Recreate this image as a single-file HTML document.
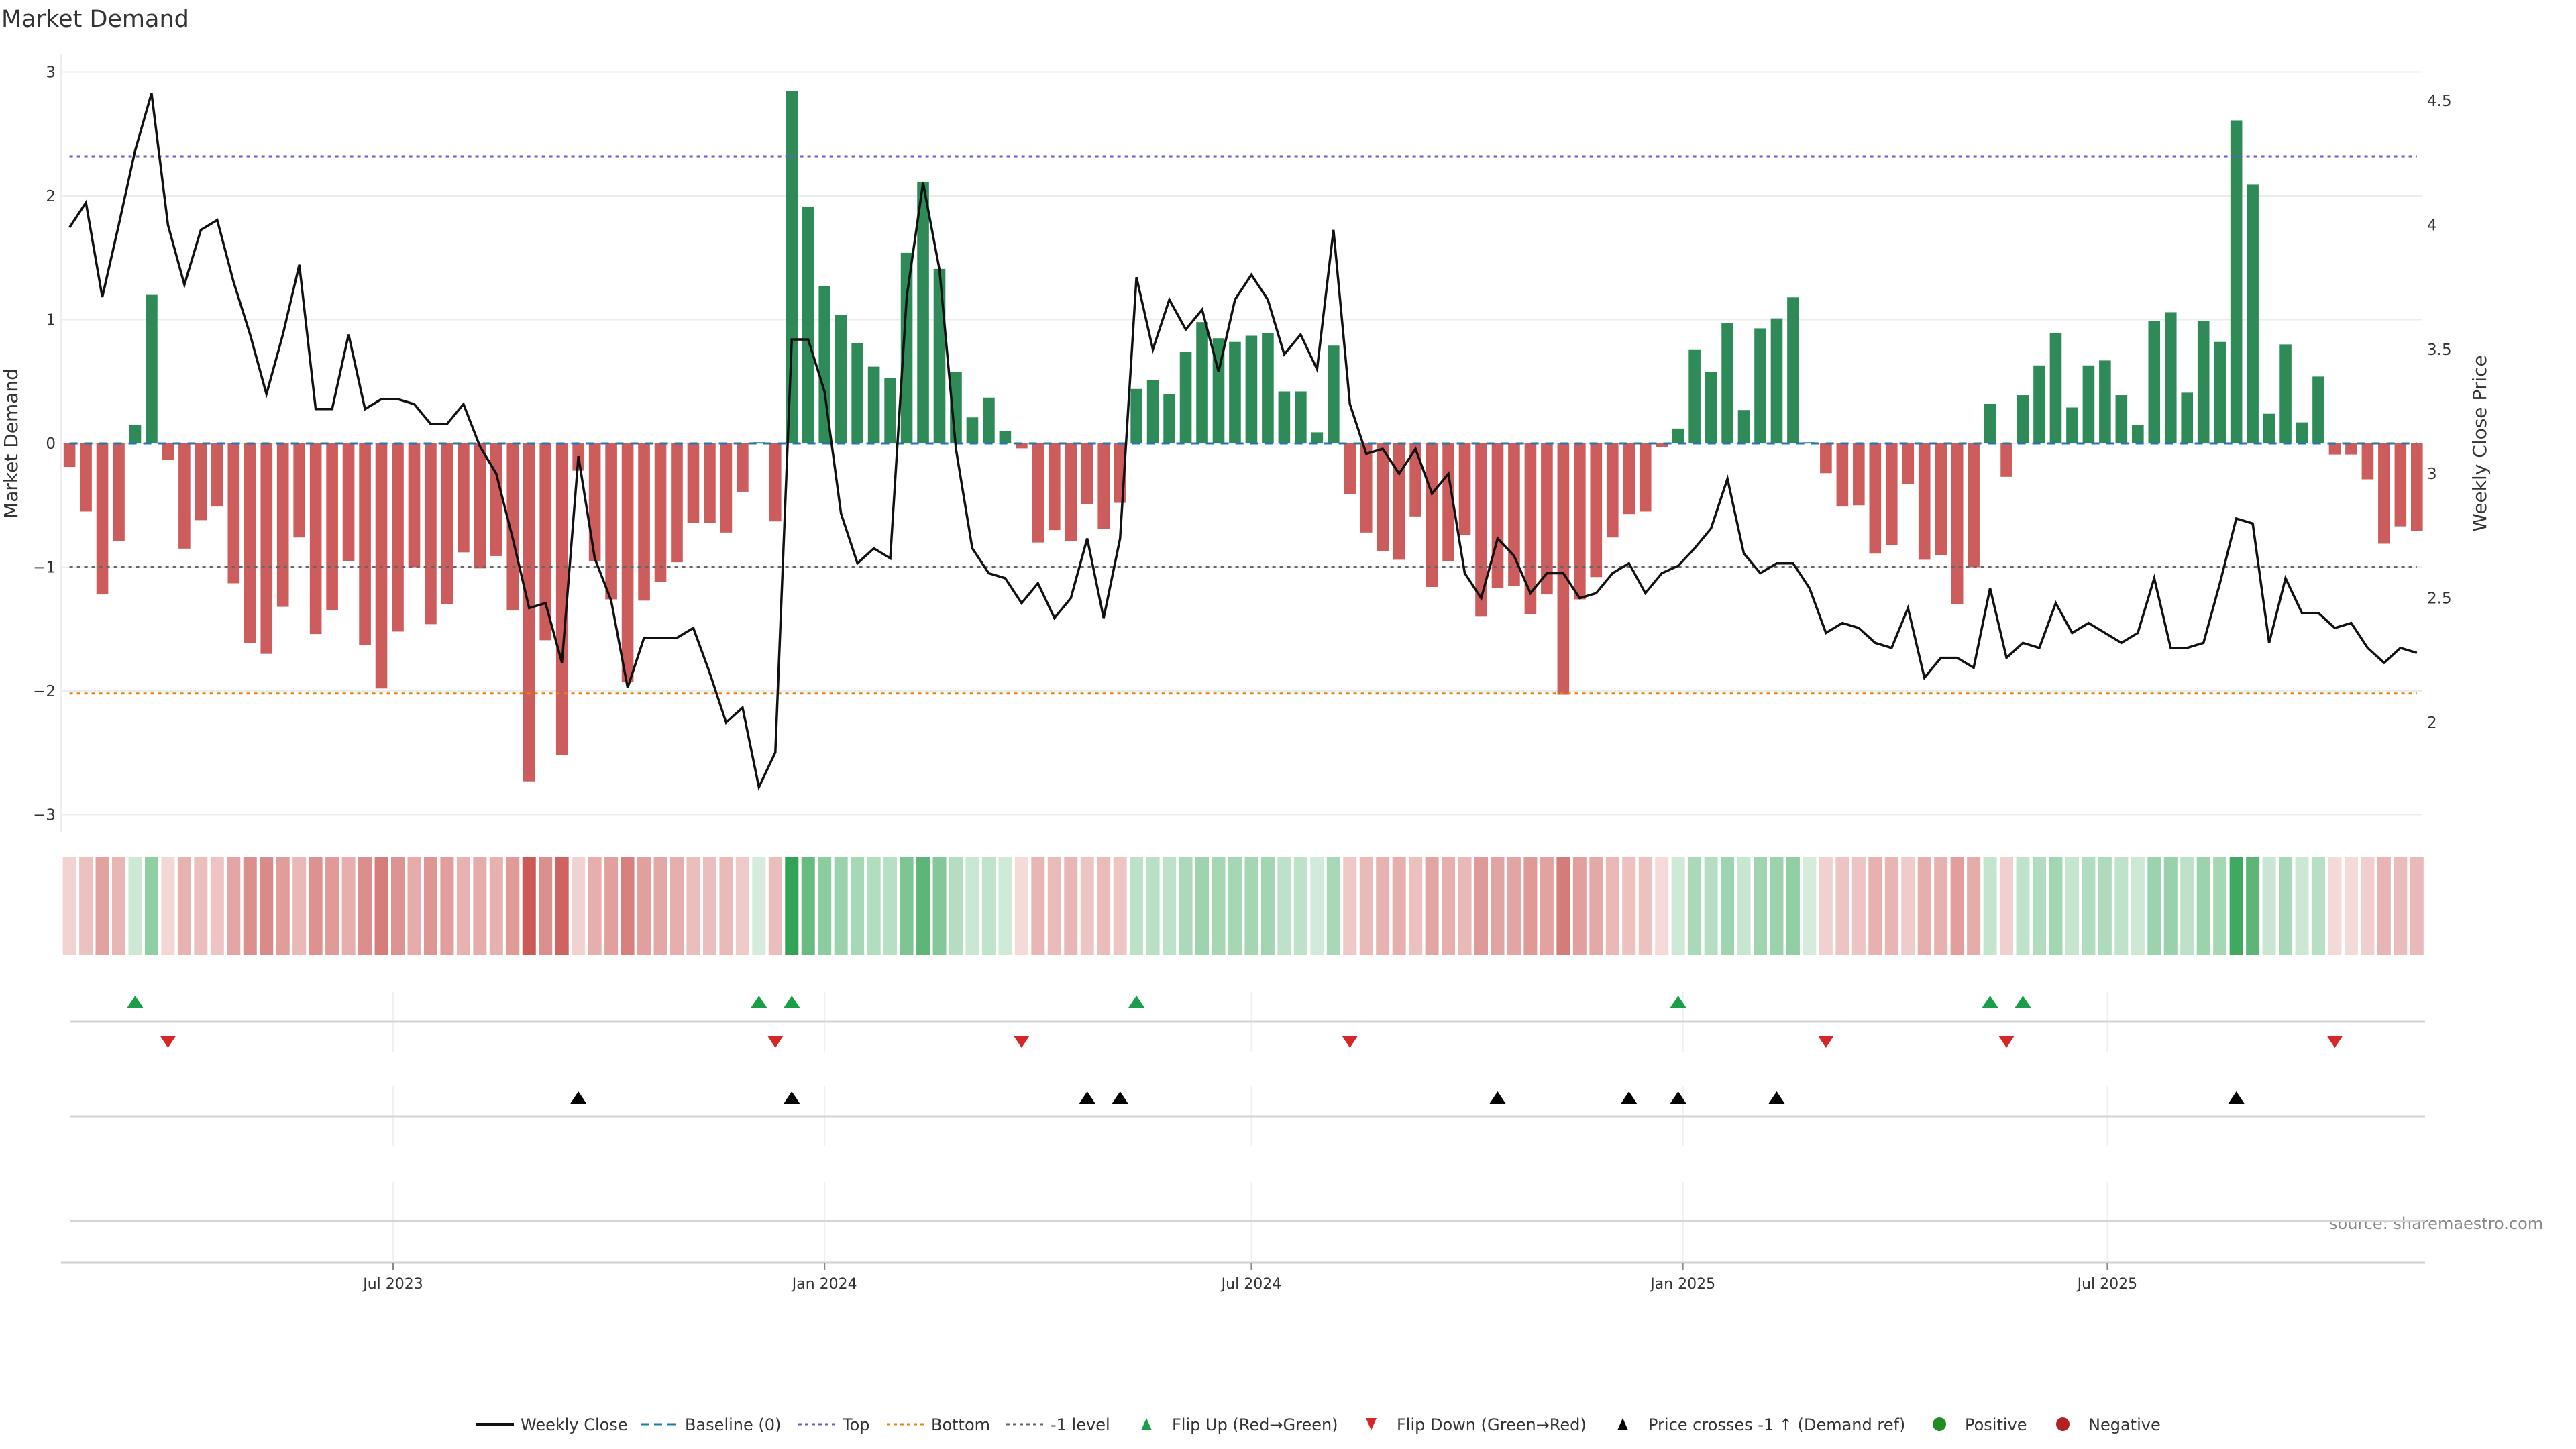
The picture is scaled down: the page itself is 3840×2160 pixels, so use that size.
<!DOCTYPE html>
<html><head><meta charset="utf-8"><title>Market Demand</title>
<style>html,body{margin:0;padding:0;background:#fff}svg{display:block;font-family:"DejaVu Sans","Liberation Sans",sans-serif}</style></head>
<body>
<svg id="chart" xmlns="http://www.w3.org/2000/svg" width="3840" height="2160" viewBox="0 0 3840 2160">
<rect width="3840" height="2160" fill="#fff"/>
<text x="2" y="40" font-size="35" fill="#333">Market Demand</text>
<text transform="translate(26,661) rotate(-90)" text-anchor="middle" font-size="28" fill="#333">Market Demand</text>
<text transform="translate(3706,661) rotate(-90)" text-anchor="middle" font-size="28" fill="#333">Weekly Close Price</text>
<text x="3472" y="1832" font-size="24" fill="#888">source: sharemaestro.com</text>
<g id="grid"></g><g id="bars"></g><g id="refs"></g><g id="line"></g><g id="heat"></g><g id="events"></g><g id="xaxis"></g>
<g id="legend"></g>
</svg>
<script>
const demand=[-0.19,-0.55,-1.22,-0.79,0.15,1.20,-0.13,-0.85,-0.62,-0.51,-1.13,-1.61,-1.70,-1.32,-0.76,-1.54,-1.35,-0.95,-1.63,-1.98,-1.52,-1.00,-1.46,-1.30,-0.88,-1.01,-0.91,-1.35,-2.73,-1.59,-2.52,-0.22,-0.95,-1.26,-1.93,-1.27,-1.12,-0.96,-0.64,-0.64,-0.72,-0.39,0.01,-0.63,2.85,1.91,1.27,1.04,0.81,0.62,0.53,1.54,2.11,1.41,0.58,0.21,0.37,0.10,-0.04,-0.80,-0.70,-0.79,-0.49,-0.69,-0.48,0.44,0.51,0.40,0.74,0.98,0.85,0.82,0.87,0.89,0.42,0.42,0.09,0.79,-0.41,-0.72,-0.87,-0.94,-0.59,-1.16,-0.95,-0.74,-1.40,-1.17,-1.15,-1.38,-1.22,-2.03,-1.26,-1.08,-0.76,-0.57,-0.55,-0.03,0.12,0.76,0.58,0.97,0.27,0.93,1.01,1.18,0.01,-0.24,-0.51,-0.50,-0.89,-0.82,-0.33,-0.94,-0.90,-1.30,-1.00,0.32,-0.27,0.39,0.63,0.89,0.29,0.63,0.67,0.39,0.15,0.99,1.06,0.41,0.99,0.82,2.61,2.09,0.24,0.80,0.17,0.54,-0.09,-0.09,-0.29,-0.81,-0.67,-0.71];
const price=[3.99,4.09,3.71,4.00,4.30,4.53,4.00,3.76,3.98,4.02,3.77,3.56,3.32,3.56,3.84,3.26,3.26,3.56,3.26,3.30,3.30,3.28,3.20,3.20,3.28,3.11,3.00,2.74,2.46,2.48,2.24,3.07,2.66,2.49,2.14,2.34,2.34,2.34,2.38,2.20,2.00,2.06,1.74,1.88,3.54,3.54,3.33,2.84,2.64,2.70,2.66,3.71,4.17,3.82,3.10,2.70,2.60,2.58,2.48,2.56,2.42,2.50,2.74,2.42,2.74,3.79,3.50,3.70,3.58,3.66,3.41,3.70,3.80,3.70,3.48,3.56,3.42,3.98,3.28,3.08,3.10,3.00,3.10,2.92,3.00,2.60,2.50,2.74,2.67,2.52,2.60,2.60,2.50,2.52,2.60,2.64,2.52,2.60,2.63,2.70,2.78,2.98,2.68,2.60,2.64,2.64,2.54,2.36,2.40,2.38,2.32,2.30,2.46,2.18,2.26,2.26,2.22,2.54,2.26,2.32,2.30,2.48,2.36,2.40,2.36,2.32,2.36,2.58,2.30,2.30,2.32,2.56,2.82,2.80,2.32,2.58,2.44,2.44,2.38,2.40,2.30,2.24,2.30,2.28];
const startDate="2023-02-13";
const tickDates=["2023-07-01","2024-01-01","2024-07-01","2025-01-01","2025-07-01"];
const tickLabels=["Jul 2023","Jan 2024","Jul 2024","Jan 2025","Jul 2025"];
const demandTicks=[3,2,1,0,-1,-2,-3];
const demandTickLabels=["3","2","1","0","\u22121","\u22122","\u22123"];
const priceTicks=[4.5,4,3.5,3,2.5,2];
const priceTickLabels=["4.5","4","3.5","3","2.5","2"];
const topLevel=2.32, bottomLevel=-2.02, minusOneLevel=-1;

const NS="http://www.w3.org/2000/svg";
function mk(parent,tag,attrs,text){const e=document.createElementNS(NS,tag);for(const k in attrs)e.setAttribute(k,attrs[k]);if(text!==undefined)e.textContent=text;parent.appendChild(e);return e;}
const X0=103.6, STEP=24.47, PL=93, PR=3611;
const xIdx=i=>X0+i*STEP;
const xDate=d=>X0+(new Date(d)-new Date(startDate))/(7*864e5)*STEP;
const yD=v=>661-v*184.5;
const yP=p=>150+(4.5-p)*370.8;
const $=id=>document.getElementById(id);

const grid=$("grid");
mk(grid,"line",{x1:91,x2:91,y1:80,y2:1240,stroke:"#eee","stroke-width":2});
demandTicks.forEach((v,k)=>{
  const gl=mk(grid,"line",{x1:PL,x2:PR,y1:yD(v),y2:yD(v),stroke:"#ececec","stroke-width":2});
  
  
  const t=mk(grid,"text",{x:83,y:yD(v)+8,"text-anchor":"end","font-size":23,fill:"#333"},demandTickLabels[k]);
  
  
});
priceTicks.forEach((p,k)=>{
  const t=mk(grid,"text",{x:3618,y:yP(p)+8,"font-size":23,fill:"#333"},priceTickLabels[k]);
  
  
});

const bars=$("bars");
demand.forEach((v,i)=>{
  const y0=yD(0),y1=yD(v);
  const r=mk(bars,"rect",{x:xIdx(i)-8.8,width:17.6,y:Math.min(y0,y1),height:Math.max(Math.abs(y1-y0),0.5),fill:v>=0?"#2e8b57":"#cd5c5c"});
  
  
});

const refs=$("refs");
const rl=[[0,"#1f77b4","12,10",3,"baseline-line"],[topLevel,"#6a5acd","5,6",3,"top-line"],[bottomLevel,"#e8820c","5,6",3,"bottom-line"],[minusOneLevel,"#666","5,6",3,"minus-one-line"]];
rl.forEach(a=>{
  const l=mk(refs,"line",{x1:X0,x2:xIdx(demand.length-1),y1:yD(a[0]),y2:yD(a[0]),stroke:a[1],"stroke-dasharray":a[2],"stroke-width":a[3]});
  
  
});

const pts=price.map((p,i)=>xIdx(i).toFixed(1)+","+yP(p).toFixed(1)).join(" ");
const pl=mk($("line"),"polyline",{points:pts,fill:"none",stroke:"#111","stroke-width":3.5,"stroke-linejoin":"miter"});



const heat=$("heat");
demand.forEach((v,i)=>{
  const a=0.2+0.8*Math.min(Math.abs(v)/2.85,1);
  const c=mk(heat,"rect",{x:xIdx(i)-10,width:20,y:1278,height:146,fill:v>=0?"#31a354":"#c9534f","fill-opacity":a.toFixed(3)});
  
  
});

const ev=$("events");
[[1479,1568,1523],[1619,1709,1664],[1762,1880,1820]].forEach(r=>{
  tickDates.forEach(d=>mk(ev,"line",{x1:xDate(d),x2:xDate(d),y1:r[0],y2:r[1],stroke:"#eef0f2","stroke-width":2}));
  const l=mk(ev,"line",{x1:104,x2:3615,y1:r[2],y2:r[2],stroke:"#d4d4d4","stroke-width":3});
  
  
});
function tri(x,y,up,color,name){
  const h=18,w=12;
  const p=up?`${x-w},${y+h/2} ${x+w},${y+h/2} ${x},${y-h/2}`:`${x-w},${y-h/2} ${x+w},${y-h/2} ${x},${y+h/2}`;
  const t=mk(ev,"polygon",{points:p,fill:color});
  
  
}
const thrY=yD(minusOneLevel);
for(let i=1;i<demand.length;i++){
  if(demand[i-1]<0&&demand[i]>=0)tri(xIdx(i),1493,true,"#1a9e4a","flip-up-marker");
  if(demand[i-1]>=0&&demand[i]<0)tri(xIdx(i),1553,false,"#d62728","flip-down-marker");
  if(yP(price[i-1])>thrY&&yP(price[i])<=thrY)tri(xIdx(i),1636,true,"#000","price-cross-marker");
}

const xa=$("xaxis");
mk(xa,"line",{x1:91,x2:3615,y1:1882,y2:1882,stroke:"#d0d0d0","stroke-width":3});
tickDates.forEach((d,k)=>{
  const x=xDate(d);
  mk(xa,"line",{x1:x,x2:x,y1:1882,y2:1893,stroke:"#888","stroke-width":2});
  const t=mk(xa,"text",{x:x,y:1921,"text-anchor":"middle","font-size":22,fill:"#333"},tickLabels[k]);
  
  
});

const lg=$("legend");const LY=2123;
const items=[
 [710,"line","#111",null,"Weekly Close"],
 [955,"line","#1f77b4","12,8","Baseline (0)"],
 [1190,"line","#6a5acd","5,5","Top"],
 [1322,"line","#e8820c","5,5","Bottom"],
 [1500,"line","#666","5,5","-1 level"],
 [1681,"up","#1a9e4a",null,"Flip Up (Red\u2192Green)"],
 [2016,"down","#d62728",null,"Flip Down (Green\u2192Red)"],
 [2391,"up","#000",null,"Price crosses -1 \u2191 (Demand ref)"],
 [2863,"dot","#228b22",null,"Positive"],
 [3047,"dot","#b22222",null,"Negative"]];
items.forEach(it=>{
  const g=mk(lg,"g",{});
  
  
  const x=it[0];
  if(it[1]==="line"){const a={x1:x,x2:x+56,y1:LY,y2:LY,stroke:it[2],"stroke-width":it[3]?3:4};if(it[3])a["stroke-dasharray"]=it[3];mk(g,"line",a);}
  else if(it[1]==="up")mk(g,"polygon",{points:`${x+20},${LY+9} ${x+36},${LY+9} ${x+28},${LY-9}`,fill:it[2]});
  else if(it[1]==="down")mk(g,"polygon",{points:`${x+20},${LY-9} ${x+36},${LY-9} ${x+28},${LY+9}`,fill:it[2]});
  else mk(g,"circle",{cx:x+28,cy:LY,r:10,fill:it[2]});
  mk(g,"text",{x:x+66,y:LY+9,"font-size":24,fill:"#333"},it[4]);
});
</script>
</body></html>
